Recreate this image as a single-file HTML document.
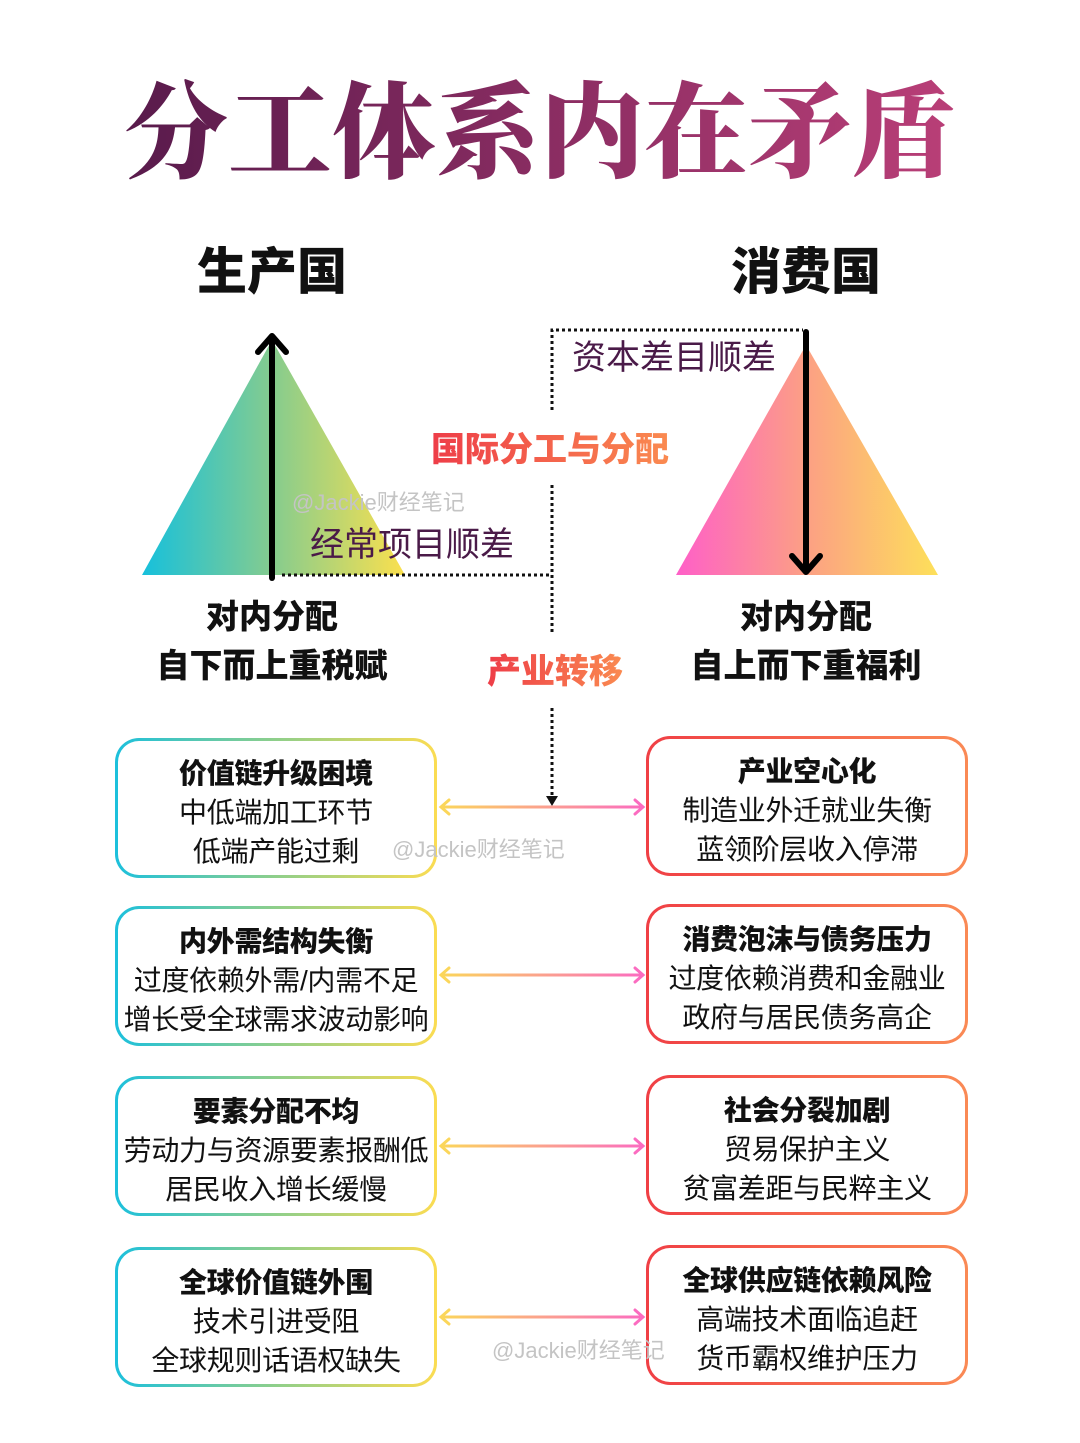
<!DOCTYPE html>
<html><head><meta charset="utf-8"><style>
*{margin:0;padding:0;box-sizing:border-box}
body{width:1080px;height:1443px;background:#fff;position:relative;overflow:hidden;font-family:"Liberation Sans","Noto Sans CJK SC",sans-serif;color:#111}
.a{position:absolute;white-space:nowrap}
.title{left:0;width:1080px;top:62px;text-align:center;font-family:"Noto Serif CJK SC","Noto Sans CJK SC",serif;font-weight:900;font-size:104px;line-height:125px;background:linear-gradient(90deg,#4a1545,#c8447e);-webkit-background-clip:text;background-clip:text;color:transparent}
.h{font-size:50px;font-weight:900;line-height:56px;text-align:center;width:300px}
.box{position:absolute;width:322px;height:140px;border:3px solid transparent;border-radius:24px;text-align:center;font-size:28px;line-height:39px;padding-top:13px;letter-spacing:-0.3px}
.L{left:115px;background:linear-gradient(#fff,#fff) padding-box,linear-gradient(90deg,#1cc0dc,#8fcf8a,#fbdc52) border-box}
.R{left:646px;background:linear-gradient(#fff,#fff) padding-box,linear-gradient(90deg,#f03f45,#fa8a55) border-box}
.box b{font-weight:900}
.wm{color:#c4c4c4;font-size:22px}
.mid{font-size:34px;line-height:40px;color:#4a1a48}
.grad{font-weight:900;background:linear-gradient(90deg,#ee3d48,#fa8a50);-webkit-background-clip:text;background-clip:text;color:transparent}
.sub{font-size:33px;font-weight:900;line-height:40px;text-align:center;width:320px}
</style></head><body>
<div class="a title">分工体系内在矛盾</div>
<div class="a h" style="left:122px;top:244px">生产国</div>
<div class="a h" style="left:656px;top:244px">消费国</div>
<svg class="a" style="left:0;top:0" width="1080" height="1443">
<defs>
<linearGradient id="gl" x1="0" x2="1"><stop offset="0" stop-color="#16c0dc"/><stop offset=".5" stop-color="#86cc8e"/><stop offset="1" stop-color="#fbe04e"/></linearGradient>
<linearGradient id="gr" x1="0" x2="1"><stop offset="0" stop-color="#fe5fc8"/><stop offset=".5" stop-color="#fca084"/><stop offset="1" stop-color="#fde05a"/></linearGradient>
<linearGradient id="gc" gradientUnits="userSpaceOnUse" x1="441" y1="0" x2="643" y2="0"><stop offset="0" stop-color="#fbd65a"/><stop offset="1" stop-color="#fb6cc0"/></linearGradient>
</defs>
<polygon points="142,575 272,340 405,575" fill="url(#gl)"/>
<polygon points="676,575 806,345 938,575" fill="url(#gr)"/>
<g stroke="#000" stroke-width="6" fill="none" stroke-linecap="round" stroke-linejoin="round">
<line x1="272" y1="578" x2="272" y2="338"/><polyline points="258,352 272,336 286,352"/>
<line x1="806" y1="332" x2="806" y2="570"/><polyline points="792,556 806,572 820,556"/>
</g>
<g stroke="#111" stroke-width="3" stroke-dasharray="3,3" fill="none">
<polyline points="552,410 552,330 803,330"/>
<line x1="552" y1="485" x2="552" y2="632"/>
<line x1="282" y1="575" x2="552" y2="575"/>
<line x1="552" y1="708" x2="552" y2="795"/>
</g>
<polygon points="546,796 558,796 552,806" fill="#111"/>
<g fill="url(#gc)">
<rect x="441" y="805.5" width="202" height="3"/><rect x="441" y="973.5" width="202" height="3"/>
<rect x="441" y="1144.5" width="202" height="3"/><rect x="441" y="1315.5" width="202" height="3"/>
</g>
<g stroke-width="3" fill="none" stroke-linecap="round">
<g stroke="#fbd65a"><polyline points="449,800 441,807 449,814"/><polyline points="449,968 441,975 449,982"/><polyline points="449,1139 441,1146 449,1153"/><polyline points="449,1310 441,1317 449,1324"/></g>
<g stroke="#fb6cc0"><polyline points="635,800 643,807 635,814"/><polyline points="635,968 643,975 635,982"/><polyline points="635,1139 643,1146 635,1153"/><polyline points="635,1310 643,1317 635,1324"/></g>
</g>
</svg>
<div class="a mid" style="left:572px;top:338px">资本差目顺差</div>
<div class="a mid" style="left:310px;top:525px">经常项目顺差</div>
<div class="a mid grad" style="left:431px;top:430px">国际分工与分配</div>
<div class="a mid grad" style="left:487px;top:652px">产业转移</div>
<div class="a wm" style="left:292px;top:485px">@Jackie财经笔记</div>
<div class="a sub" style="left:112px;top:597px">对内分配</div>
<div class="a sub" style="left:112px;top:646px">自下而上重税赋</div>
<div class="a sub" style="left:646px;top:597px">对内分配</div>
<div class="a sub" style="left:646px;top:646px">自上而下重福利</div>

<div class="box L" style="top:738px"><b>价值链升级困境</b><br>中低端加工环节<br>低端产能过剩</div>
<div class="box R" style="top:736px"><b>产业空心化</b><br>制造业外迁就业失衡<br>蓝领阶层收入停滞</div>
<div class="box L" style="top:906px"><b>内外需结构失衡</b><br>过度依赖外需/内需不足<br>增长受全球需求波动影响</div>
<div class="box R" style="top:904px"><b>消费泡沫与债务压力</b><br>过度依赖消费和金融业<br>政府与居民债务高企</div>
<div class="box L" style="top:1076px"><b>要素分配不均</b><br>劳动力与资源要素报酬低<br>居民收入增长缓慢</div>
<div class="box R" style="top:1075px"><b>社会分裂加剧</b><br>贸易保护主义<br>贫富差距与民粹主义</div>
<div class="box L" style="top:1247px"><b>全球价值链外围</b><br>技术引进受阻<br>全球规则话语权缺失</div>
<div class="box R" style="top:1245px"><b>全球供应链依赖风险</b><br>高端技术面临追赶<br>货币霸权维护压力</div>
<div class="a wm" style="left:392px;top:832px">@Jackie财经笔记</div>
<div class="a wm" style="left:492px;top:1333px">@Jackie财经笔记</div>
</body></html>
